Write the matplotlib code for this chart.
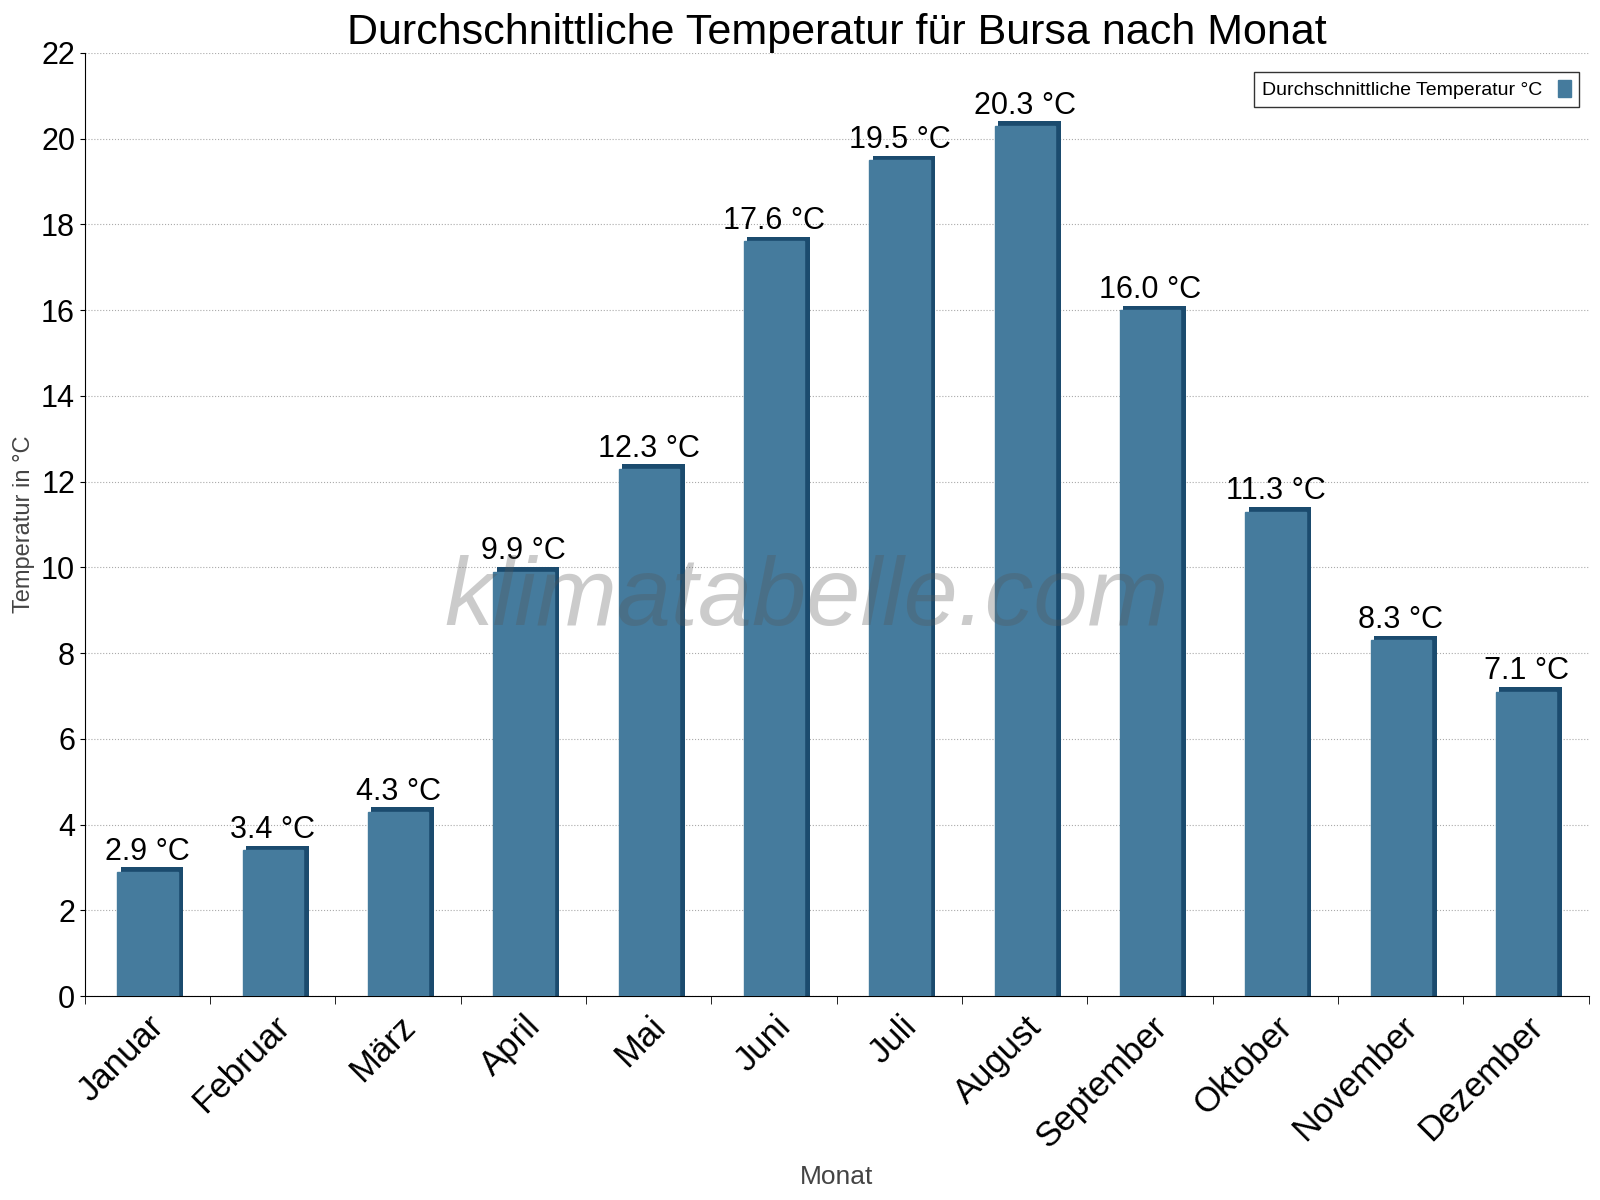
import matplotlib
matplotlib.use("Agg")
import matplotlib.pyplot as plt
import numpy as np

months = ["Januar","Februar","März","April","Mai","Juni","Juli","August","September","Oktober","November","Dezember"]
temps = [2.9,3.4,4.3,9.9,12.3,17.6,19.5,20.3,16.0,11.3,8.3,7.1]

plt.rcParams["font.family"] = "Liberation Sans"
fig = plt.figure(figsize=(16,12), dpi=100)
ax = fig.add_axes([0.053, 0.17, 0.94, 0.786])
x = np.arange(len(months))
ax.bar(x+0.035, np.array(temps)+0.1, width=0.5, color="#1b4b6e", zorder=2, label="_nolegend_")
ax.bar(x, temps, width=0.48, color="#457b9d", zorder=3, label="Durchschnittliche Temperatur °C", edgecolor="#457b9d")
for xi, t in zip(x, temps):
    ax.text(xi, t+0.12, f"{t:.1f} °C", ha="center", va="bottom", fontsize=22, zorder=5)
ax.set_xlim(-0.5, 11.5)
ax.set_ylim(0, 22)
ax.set_yticks(range(0, 23, 2))
ax.tick_params(axis="y", labelsize=22)
ax.set_xticks(x)
ax.set_xticklabels(months, rotation=45, ha="right", rotation_mode="anchor", fontsize=25)
ax.tick_params(axis="x", length=0, pad=10)
ax.set_xticks(np.arange(-0.5, 12, 1), minor=True)
ax.tick_params(axis="x", which="minor", length=6)
ax.grid(axis="y", linestyle=":", color="#aaaaaa", zorder=0)
for s in ["top","right"]:
    ax.spines[s].set_visible(False)
ax.set_ylabel("Temperatur in °C", fontsize=17, color="#444444")
ax.set_xlabel("Monat", fontsize=19, color="#444444", labelpad=8)
ax.set_title("Durchschnittliche Temperatur für Bursa nach Monat", fontsize=31, pad=6)
ax.text(0.48, 0.42, "klimatabelle.com", transform=ax.transAxes, ha="center", va="center",
        fontsize=70, style="italic", color="#555555", alpha=0.3, zorder=6)
leg = ax.legend(loc="upper right", fontsize=14, fancybox=False, edgecolor="black", markerfirst=False,
                handlelength=0.7, handleheight=1.0, bbox_to_anchor=(1.0, 0.99))
leg.get_frame().set_linewidth(1)
fig.savefig("out.png")
